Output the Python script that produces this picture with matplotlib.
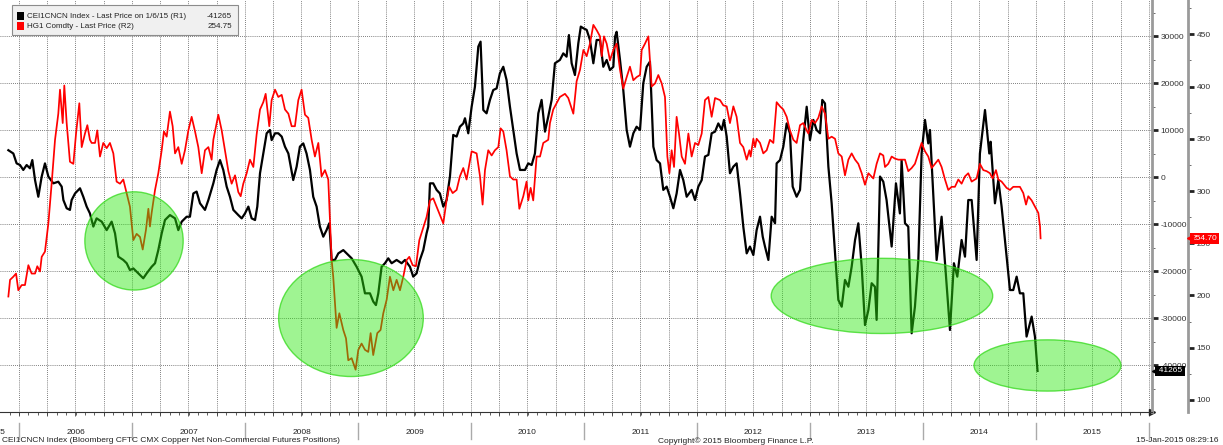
import matplotlib
matplotlib.use('Agg')
import matplotlib.pyplot as plt
import matplotlib.transforms as mtransforms
from matplotlib.patches import Ellipse, Rectangle
import numpy as np

plt.rcParams['font.family'] = ['Liberation Sans', 'DejaVu Sans']

# CEI1CNCN Index (R1) - CFTC copper net non-commercial positions, decimal years
cftc_dates = [
    2005.906, 2005.950, 2005.979, 2006.009, 2006.038, 2006.068, 2006.097, 2006.118, 2006.142, 2006.171,
    2006.201, 2006.230, 2006.260, 2006.304, 2006.348, 2006.378, 2006.393, 2006.422, 2006.451, 2006.466,
    2006.496, 2006.540, 2006.569, 2006.599, 2006.628, 2006.658, 2006.687, 2006.732, 2006.776, 2006.820,
    2006.850, 2006.879, 2006.923, 2006.953, 2006.982, 2007.012, 2007.056, 2007.100, 2007.130, 2007.174,
    2007.204, 2007.233, 2007.263, 2007.292, 2007.336, 2007.381, 2007.410, 2007.440, 2007.484, 2007.513,
    2007.543, 2007.572, 2007.602, 2007.646, 2007.676, 2007.720, 2007.749, 2007.779, 2007.808, 2007.838,
    2007.867, 2007.897, 2007.941, 2007.971, 2008.000, 2008.030, 2008.059, 2008.089, 2008.109, 2008.133,
    2008.162, 2008.192, 2008.221, 2008.236, 2008.266, 2008.295, 2008.325, 2008.354, 2008.384, 2008.427,
    2008.457, 2008.486, 2008.516, 2008.545, 2008.575, 2008.604, 2008.634, 2008.663, 2008.693, 2008.722,
    2008.746, 2008.767, 2008.796, 2008.826, 2008.870, 2008.914, 2008.944, 2008.988, 2009.032, 2009.062,
    2009.106, 2009.135, 2009.159, 2009.180, 2009.209, 2009.239, 2009.268, 2009.298, 2009.342, 2009.386,
    2009.416, 2009.460, 2009.489, 2009.519, 2009.548, 2009.578, 2009.607, 2009.622, 2009.637, 2009.666,
    2009.696, 2009.725, 2009.755, 2009.784, 2009.814, 2009.843, 2009.873, 2009.902, 2009.932, 2009.947,
    2009.976, 2010.006, 2010.035, 2010.065, 2010.085, 2010.109, 2010.138, 2010.168, 2010.197, 2010.227,
    2010.256, 2010.286, 2010.315, 2010.345, 2010.374, 2010.404, 2010.434, 2010.478, 2010.507, 2010.537,
    2010.566, 2010.596, 2010.625, 2010.655, 2010.684, 2010.714, 2010.743, 2010.787, 2010.817, 2010.846,
    2010.867, 2010.891, 2010.920, 2010.950, 2010.972, 2010.995, 2011.024, 2011.053, 2011.083, 2011.112,
    2011.142, 2011.171, 2011.201, 2011.230, 2011.260, 2011.275, 2011.289, 2011.319, 2011.348, 2011.378,
    2011.407, 2011.437, 2011.466, 2011.496, 2011.525, 2011.555, 2011.584, 2011.614, 2011.643, 2011.673,
    2011.702, 2011.732, 2011.761, 2011.791, 2011.820, 2011.850, 2011.879, 2011.909, 2011.953, 2011.983,
    2012.012, 2012.042, 2012.071, 2012.101, 2012.130, 2012.160, 2012.189, 2012.219, 2012.239, 2012.263,
    2012.292, 2012.322, 2012.351, 2012.381, 2012.410, 2012.440, 2012.469, 2012.499, 2012.528, 2012.558,
    2012.582, 2012.602, 2012.632, 2012.661, 2012.691, 2012.705, 2012.735, 2012.764, 2012.794, 2012.823,
    2012.847, 2012.882, 2012.912, 2012.941, 2012.971, 2013.000, 2013.030, 2013.059, 2013.089, 2013.109,
    2013.133, 2013.163, 2013.192, 2013.222, 2013.251, 2013.281, 2013.310, 2013.340, 2013.369, 2013.399,
    2013.428, 2013.458, 2013.487, 2013.517, 2013.546, 2013.575, 2013.590, 2013.620, 2013.649, 2013.678,
    2013.723, 2013.761, 2013.796, 2013.811, 2013.841, 2013.870, 2013.900, 2013.929, 2013.959, 2013.988,
    2014.018, 2014.047, 2014.062, 2014.091, 2014.121, 2014.165, 2014.195, 2014.239, 2014.274, 2014.304,
    2014.342, 2014.372, 2014.401, 2014.431, 2014.475, 2014.504, 2014.549, 2014.587, 2014.599, 2014.637,
    2014.667, 2014.696, 2014.740, 2014.770, 2014.799, 2014.829, 2014.858, 2014.888, 2014.917, 2014.962,
    2014.991, 2015.014,
]
cftc_net = [
    5700, 5000, 2900, 2550, 1500, 2550, 1850, 3600, -650, -4200,
    100, 2900, 100, -1350, -1000, -2050, -4900, -6650, -7000, -4900,
    -3500, -2400, -4200, -6300, -7750, -10550, -8800, -9500, -11300, -9500,
    -12000, -16950, -17650, -18350, -19800, -19450, -20500, -21550, -20500, -19100,
    -18350, -15550, -12000, -9150, -8100, -8800, -11300, -9500, -8450, -8450,
    -3500, -3100, -5600, -7000, -4900, -1350, 1500, 3600, 1500, -2050,
    -4200, -7000, -8100, -8800, -7750, -6300, -8800, -9150, -6300, 800,
    5000, 9300, 10000, 7850, 9300, 9300, 8600, 6450, 5000, -650,
    2200, 6450, 7150, 5000, 1500, -4200, -6300, -10550, -12700, -11300,
    -9850, -17650, -17650, -16250, -15550, -16600, -17300, -19100, -21200, -24750,
    -24750, -26500, -27250, -24750, -19100, -18350, -17300, -18350, -17650, -18350,
    -17650, -19100, -21200, -20500, -17650, -15550, -12000, -10550, -1350, -1350,
    -2750, -3500, -6300, -4900, 100, 8950, 8600, 10700, 11400, 12500,
    9300, 14950, 19200, 27750, 28800, 14250, 13550, 16400, 18500, 18850,
    22050, 23450, 20650, 14950, 10000, 5000, 1500, 1500, 2900, 2550,
    5000, 13550, 16400, 9650, 12850, 16400, 24200, 24900, 26300, 25600,
    30200, 24200, 21700, 28450, 32000, 31650, 31300, 29150, 24200, 29150,
    29150, 23450, 24900, 22750, 23450, 29850, 30900, 24900, 18500, 10000,
    6450, 9300, 10700, 10000, 19950, 23450, 24550, 6450, 3600, 2900,
    -2750, -2050, -4200, -6650, -3500, 1500, -650, -4200, -2750, -4900,
    -2050, -650, 4350, 4700, 9300, 9650, 11400, 10000, 12150, 8600,
    800, 2200, 2900, -3500, -10550, -16250, -14800, -16600, -11300, -8450,
    -12700, -14800, -17650, -8450, -9850, 2900, 3600, 6450, 11400, 9300,
    -2050, -4200, -2750, 7850, 14950, 7850, 12150, 10000, 9300, 16400,
    15650, 2200, -5600, -16250, -26150, -27600, -21900, -23350, -19100, -13400,
    -9850, -19100, -31500, -28300, -22600, -23350, -30400, 100, -1000, -4900,
    -14800, -1350, -7750, 3600, -9850, -10550, -33250, -27600, -17650, 5000,
    12150, 7150, 10000, -3500, -17650, -8450, -18350, -32550, -18350, -21200,
    -13400, -16950, -4900, -4900, -17650, 5000, 14250, 5000, 7500, -5600,
    -650, -6300, -16950, -24050, -24050, -21200, -24750, -24750, -33950, -29700,
    -33950, -41265,
]

# HG1 Comdty (R2) - copper front month, US cents per lb
copper_dates = [
    2005.906, 2005.921, 2005.950, 2005.974, 2005.994, 2006.024, 2006.053, 2006.083, 2006.112, 2006.142,
    2006.162, 2006.186, 2006.201, 2006.230, 2006.260, 2006.289, 2006.319, 2006.348, 2006.363, 2006.387,
    2006.401, 2006.422, 2006.451, 2006.481, 2006.505, 2006.534, 2006.555, 2006.584, 2006.605, 2006.628,
    2006.643, 2006.673, 2006.693, 2006.717, 2006.746, 2006.776, 2006.805, 2006.835, 2006.864, 2006.894,
    2006.923, 2006.953, 2006.982, 2007.012, 2007.041, 2007.071, 2007.095, 2007.124, 2007.145, 2007.159,
    2007.174, 2007.204, 2007.233, 2007.263, 2007.283, 2007.307, 2007.336, 2007.360, 2007.381, 2007.410,
    2007.440, 2007.469, 2007.499, 2007.528, 2007.558, 2007.587, 2007.617, 2007.646, 2007.676, 2007.705,
    2007.720, 2007.764, 2007.794, 2007.823, 2007.853, 2007.882, 2007.912, 2007.941, 2007.962, 2007.985,
    2008.015, 2008.044, 2008.074, 2008.103, 2008.133, 2008.162, 2008.183, 2008.215, 2008.236, 2008.266,
    2008.295, 2008.325, 2008.354, 2008.384, 2008.413, 2008.442, 2008.472, 2008.501, 2008.531, 2008.560,
    2008.590, 2008.619, 2008.649, 2008.678, 2008.708, 2008.737, 2008.767, 2008.781, 2008.811, 2008.835,
    2008.870, 2008.894, 2008.914, 2008.944, 2008.979, 2009.003, 2009.032, 2009.062, 2009.091, 2009.112,
    2009.135, 2009.171, 2009.200, 2009.224, 2009.254, 2009.283, 2009.313, 2009.342, 2009.372, 2009.401,
    2009.431, 2009.454, 2009.484, 2009.513, 2009.543, 2009.572, 2009.607, 2009.637, 2009.666, 2009.696,
    2009.725, 2009.755, 2009.784, 2009.808, 2009.838, 2009.873, 2009.902, 2009.932, 2009.961, 2010.006,
    2010.050, 2010.080, 2010.103, 2010.124, 2010.153, 2010.183, 2010.212, 2010.242, 2010.262, 2010.286,
    2010.315, 2010.345, 2010.374, 2010.404, 2010.428, 2010.463, 2010.492, 2010.507, 2010.528, 2010.551,
    2010.581, 2010.611, 2010.640, 2010.684, 2010.699, 2010.728, 2010.758, 2010.787, 2010.832, 2010.861,
    2010.906, 2010.935, 2010.965, 2010.995, 2011.024, 2011.053, 2011.083, 2011.112, 2011.142, 2011.157,
    2011.177, 2011.201, 2011.230, 2011.260, 2011.289, 2011.319, 2011.348, 2011.378, 2011.407, 2011.437,
    2011.466, 2011.496, 2011.511, 2011.540, 2011.570, 2011.599, 2011.629, 2011.658, 2011.688, 2011.717,
    2011.738, 2011.756, 2011.776, 2011.797, 2011.820, 2011.841, 2011.865, 2011.894, 2011.924, 2011.953,
    2011.983, 2012.012, 2012.042, 2012.071, 2012.101, 2012.130, 2012.160, 2012.204, 2012.233, 2012.263,
    2012.292, 2012.322, 2012.351, 2012.381, 2012.410, 2012.440, 2012.464, 2012.475, 2012.499, 2012.514,
    2012.528, 2012.558, 2012.587, 2012.617, 2012.646, 2012.676, 2012.705, 2012.735, 2012.764, 2012.794,
    2012.823, 2012.853, 2012.882, 2012.912, 2012.941, 2012.971, 2012.986, 2013.015, 2013.045, 2013.074,
    2013.104, 2013.133, 2013.163, 2013.192, 2013.222, 2013.251, 2013.281, 2013.310, 2013.340, 2013.369,
    2013.399, 2013.428, 2013.458, 2013.487, 2013.517, 2013.561, 2013.590, 2013.620, 2013.649, 2013.664,
    2013.693, 2013.723, 2013.752, 2013.782, 2013.811, 2013.841, 2013.870, 2013.900, 2013.929, 2013.959,
    2013.988, 2014.018, 2014.047, 2014.077, 2014.106, 2014.136, 2014.165, 2014.195, 2014.224, 2014.254,
    2014.283, 2014.313, 2014.342, 2014.372, 2014.401, 2014.431, 2014.475, 2014.504, 2014.534, 2014.563,
    2014.593, 2014.617, 2014.646, 2014.667, 2014.696, 2014.740, 2014.770, 2014.799, 2014.829, 2014.858,
    2014.888, 2014.912, 2014.932, 2014.962, 2014.991, 2015.021, 2015.036, 2015.041,
]
copper_price = [
    199, 215, 218, 221, 205, 210, 210, 229, 221, 221,
    228, 223, 237, 242, 269, 307, 349, 374, 397, 365,
    401, 365, 328, 326, 355, 384, 342, 355, 363, 349,
    346, 346, 358, 333, 346, 341, 346, 336, 309, 307,
    311, 298, 285, 253, 259, 256, 244, 263, 283, 266,
    279, 301, 317, 339, 357, 352, 376, 362, 336, 342,
    326, 339, 358, 371, 357, 342, 317, 339, 342, 330,
    349, 373, 358, 339, 319, 307, 315, 299, 295, 307,
    317, 330, 323, 354, 378, 385, 393, 362, 387, 397,
    390, 392, 378, 374, 362, 362, 387, 397, 373, 370,
    349, 333, 346, 314, 320, 311, 234, 218, 169, 183,
    167, 159, 138, 140, 129, 148, 154, 148, 146, 164,
    143, 164, 167, 183, 196, 218, 205, 215, 205, 218,
    234, 237, 229, 228, 253, 263, 275, 291, 293, 285,
    277, 269, 291, 304, 298, 301, 314, 322, 311, 338,
    336, 314, 287, 320, 339, 334, 339, 342, 360, 357,
    339, 314, 311, 311, 283, 295, 309, 291, 303, 291,
    333, 333, 346, 349, 365, 378, 384, 390, 393, 389,
    374, 405, 416, 435, 429, 441, 459, 454, 448, 429,
    448, 441, 425, 435, 441, 416, 398, 409, 419, 406,
    409, 411, 435, 441, 448, 400, 403, 411, 403, 390,
    333, 317, 339, 323, 371, 355, 333, 326, 355, 333,
    346, 344, 355, 387, 390, 371, 389, 387, 382, 381,
    365, 381, 371, 346, 342, 330, 339, 333, 350, 342,
    350, 346, 336, 339, 349, 346, 385, 381, 378, 371,
    358, 349, 346, 363, 365, 358, 355, 368, 365, 370,
    381, 374, 350, 352, 350, 336, 333, 315, 330, 336,
    330, 326, 317, 306, 317, 312, 326, 336, 334, 323,
    326, 333, 331, 330, 330, 330, 319, 322, 326, 336,
    346, 338, 333, 322, 326, 330, 323, 311, 301, 304,
    304, 311, 307, 314, 317, 309, 312, 326, 320, 319,
    317, 312, 320, 311, 309, 303, 301, 304, 304, 304,
    298, 287, 295, 291, 285, 279, 266, 254.7,
]

cftc_last = -41265
copper_last = 254.70
year_labels = ['2005', '2006', '2007', '2008', '2009', '2010',
               '2011', '2012', '2013', '2014', '2015']
r1_ticks = [-40000, -30000, -20000, -10000, 0, 10000, 20000, 30000]
r2_ticks = [100, 150, 200, 250, 300, 350, 400, 450]

# green highlight circles drawn on the chart: (date, R1 value, width yrs, height R1)
highlights = [
    (2007.018, -13600, 0.87, 20900),
    (2008.938, -30000, 1.28, 24900),
    (2013.637, -25300, 1.96, 16000),
    (2015.102, -40100, 1.30, 10900),
]

W, H = 1223, 445
fig = plt.figure(figsize=(W / 100, H / 100), dpi=100)
ax = fig.add_axes([0, 1 - 412 / H, 1152 / W, 412 / H])
ax.set_xlim(2005.832, 2016.027)
ax.set_ylim(-50000, 37660)

ax.plot(cftc_dates, cftc_net, color='black', lw=1.6, zorder=3)

ax2 = ax.twinx()
ax2.set_ylim(88.5, 482.8)
ax2.plot(copper_dates, copper_price, color='#ff0000', lw=1.25, zorder=3)

# grid: quarters vertically, R1 majors horizontally
ax.set_xticks(np.arange(2006, 2016.01, 0.25))
ax.set_xticks(np.arange(2005.917, 2016.03, 1 / 12), minor=True)
ax.tick_params(axis='x', which='both', labelbottom=False, direction='out',
               color='#444', width=0.6)
ax.tick_params(axis='x', which='major', length=3)
ax.tick_params(axis='x', which='minor', length=2)
ax.grid(True, which='major', linestyle=(0, (1, 1.5)), color='#555', lw=0.6)
ax.set_axisbelow(True)

ax.yaxis.tick_right()
ax.set_yticks(r1_ticks)
ax.set_yticklabels([str(t) for t in r1_ticks])
ax.set_yticks(np.arange(-45000, 37000, 5000), minor=True)
ax.tick_params(axis='y', which='major', length=4, width=2, color='#222',
               pad=2, labelsize=6, labelcolor='#333')
ax.tick_params(axis='y', which='minor', length=2.5, width=0.6, color='#555')

for s in ['left', 'top']:
    ax.spines[s].set_visible(False)
ax.spines['right'].set_color('#9a9a9a')
ax.spines['right'].set_linewidth(2)
ax.spines['bottom'].set_color('#333')
ax.spines['bottom'].set_linewidth(0.8)
ax.plot([1], [0], marker='>', ms=4, color='#222', transform=ax.transAxes,
        clip_on=False)

for s in ['left', 'top', 'bottom']:
    ax2.spines[s].set_visible(False)
ax2.spines['right'].set_position(('axes', 1188 / 1152))
ax2.spines['right'].set_color('#9a9a9a')
ax2.spines['right'].set_linewidth(2)
ax2.set_yticks(r2_ticks)
ax2.set_yticklabels([str(t) for t in r2_ticks])
ax2.set_yticks(np.arange(100, 480, 25), minor=True)
ax2.tick_params(axis='y', which='major', length=4, width=2, color='#222',
                pad=2, labelsize=6, labelcolor='#333')
ax2.tick_params(axis='y', which='minor', length=2.5, width=0.6, color='#555')

# green circles on top of both lines
for cx, cy, w, h in highlights:
    ax2.add_patch(Ellipse((cx, cy), w, h, transform=ax.transData,
                          facecolor=(0.17, 0.91, 0.06, 0.45),
                          edgecolor=(0.2, 0.85, 0.1, 0.75), lw=1, zorder=5))

# last value tags
tr_r1 = mtransforms.blended_transform_factory(ax.transAxes, ax.transData)
tr_r2 = mtransforms.blended_transform_factory(ax2.transAxes, ax2.transData)
ax.text(1157 / 1152, cftc_last, '%d' % cftc_last, transform=tr_r1, color='white',
        fontsize=6, va='center', ha='left', zorder=10, clip_on=False,
        bbox=dict(boxstyle='square,pad=0.2', fc='black', ec='none'))
ax.plot([1155 / 1152], [cftc_last], marker='<', ms=4, color='black',
        transform=tr_r1, clip_on=False, zorder=10)
ax2.text(1192 / 1152, copper_last, '%.2f' % copper_last, transform=tr_r2,
         color='white', fontsize=6, va='center', ha='left', zorder=10,
         clip_on=False, bbox=dict(boxstyle='square,pad=0.2', fc='#ff0000', ec='none'))
ax2.plot([1190 / 1152], [copper_last], marker='<', ms=4, color='#ff0000',
         transform=tr_r2, clip_on=False, zorder=10)

# year labels and separators under the axis (2005 is cut by the left edge)
tr_x = mtransforms.blended_transform_factory(ax.transData, fig.transFigure)
for lab in year_labels:
    yr = int(lab)
    if yr == 2005:
        fig.text(2005.876, 1 - 432 / H, lab, transform=tr_x, ha='right',
                 va='center', fontsize=6, color='#222')
    else:
        fig.text(yr + 0.5, 1 - 432 / H, lab, transform=tr_x, ha='center',
                 va='center', fontsize=6, color='#222')
for yr in range(2006, 2017):
    fig.add_artist(plt.Line2D([yr, yr], [1 - 423 / H, 1 - 439 / H], transform=tr_x,
                              color='#aaaaaa', lw=1))

# legend box
fig.patches.append(Rectangle((12 / W, 1 - 35 / H), 226 / W, 30 / H,
                             transform=fig.transFigure, fc='#f0f0f0',
                             ec='#8c8c8c', lw=0.8))
legend_rows = [
    ('black', 'CEI1CNCN Index - Last Price on 1/6/15 (R1)', '%d' % cftc_last, 16),
    ('#ff0000', 'HG1 Comdty - Last Price (R2)', '254.75', 26),
]
for col, lab, val, ypx in legend_rows:
    fig.patches.append(Rectangle((17 / W, 1 - (ypx + 4) / H), 7 / W, 8 / H,
                                 transform=fig.transFigure, fc=col, ec='none'))
    fig.text(27 / W, 1 - ypx / H, lab, fontsize=5.8, va='center', color='#222')
    fig.text(232 / W, 1 - ypx / H, val, fontsize=5.8, va='center', ha='right',
             color='#222')

# footer
fig.text(2 / W, 1 - 441 / H, 'CEI1CNCN Index (Bloomberg CFTC CMX Copper Net '
         'Non-Commercial Futures Positions)', fontsize=6, va='center', color='#222')
fig.text(736 / W, 1 - 441 / H, 'Copyright\u00a9 2015 Bloomberg Finance L.P.',
         fontsize=6, va='center', ha='center', color='#222')
fig.text(1219 / W, 1 - 441 / H, '15-Jan-2015 08:29:16', fontsize=6,
         va='center', ha='right', color='#222')

fig.savefig('out.png', dpi=100)
